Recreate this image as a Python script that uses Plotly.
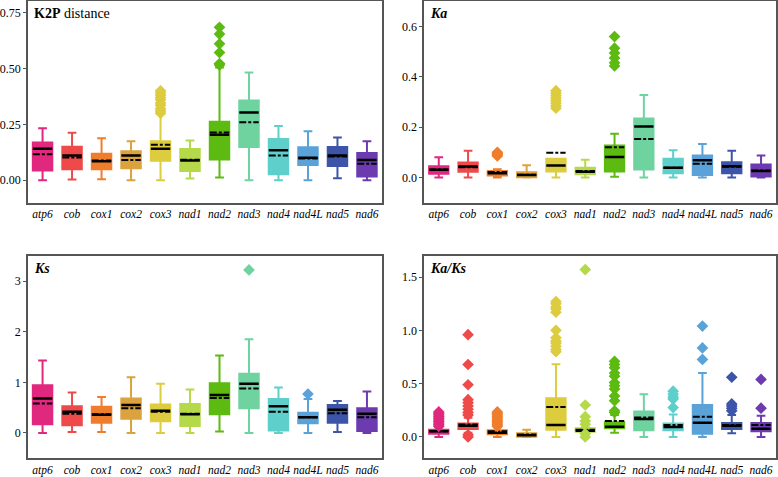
import plotly.graph_objects as go
from plotly.subplots import make_subplots

genes = ["atp6", "cob", "cox1", "cox2", "cox3", "nad1", "nad2", "nad3", "nad4", "nad4L", "nad5", "nad6"]
colors = ["#e0287f", "#ee4a4a", "#ef7d2c", "#dba23e", "#dccc3e", "#b5d948",
          "#5cba10", "#6fd3a0", "#5ecfcb", "#5aa2d8", "#3d55a8", "#6d3bb0"]

# K2P distance
k2p_lo = [0.0, 0.003, 0.004, 0.0, 0.0, 0.007, 0.012, 0.0, 0.0, 0.0, 0.009, 0.0]
k2p_q1 = [0.043, 0.049, 0.049, 0.053, 0.087, 0.041, 0.093, 0.149, 0.026, 0.068, 0.063, 0.016]
k2p_med = [0.141, 0.110, 0.085, 0.110, 0.141, 0.088, 0.203, 0.303, 0.134, 0.100, 0.110, 0.090]
k2p_mean = [0.116, 0.101, 0.088, 0.090, 0.159, 0.091, 0.213, 0.259, 0.110, 0.097, 0.106, 0.074]
k2p_q3 = [0.169, 0.150, 0.118, 0.129, 0.174, 0.140, 0.262, 0.357, 0.184, 0.147, 0.149, 0.122]
k2p_hi = [0.232, 0.212, 0.188, 0.174, 0.299, 0.178, 0.504, 0.482, 0.243, 0.219, 0.191, 0.174]
k2p_out = [[], [], [], [], [0.30, 0.31, 0.32, 0.335, 0.345, 0.36, 0.37, 0.38, 0.39, 0.40], [],
           [0.515, 0.522, 0.571, 0.610, 0.654, 0.684], [], [], [], [], []]

# Ka
ka_lo = [0.0, 0.0, 0.0, 0.0, 0.0, 0.0, 0.003, 0.0, 0.0, 0.0, 0.0, 0.0]
ka_q1 = [0.014, 0.022, 0.008, 0.001, 0.023, 0.012, 0.023, 0.031, 0.016, 0.009, 0.016, 0.004]
ka_med = [0.030, 0.043, 0.016, 0.009, 0.047, 0.022, 0.081, 0.202, 0.038, 0.068, 0.044, 0.025]
ka_mean = [0.031, 0.040, 0.021, 0.010, 0.098, 0.025, 0.120, 0.153, 0.038, 0.054, 0.042, 0.027]
ka_q3 = [0.044, 0.059, 0.025, 0.020, 0.074, 0.038, 0.127, 0.234, 0.074, 0.087, 0.060, 0.051]
ka_hi = [0.080, 0.106, 0.032, 0.048, 0.074, 0.070, 0.174, 0.328, 0.108, 0.133, 0.106, 0.087]
ka_out = [[], [], [0.085, 0.09, 0.095, 0.10], [],
          [0.275, 0.285, 0.295, 0.305, 0.315, 0.325, 0.335, 0.345], [],
          [0.443, 0.456, 0.475, 0.495, 0.514, 0.56], [], [], [], [], []]

# Ks
ks_lo = [0.0, 0.02, 0.02, 0.0, 0.0, 0.0, 0.03, 0.0, 0.0, 0.0, 0.02, 0.0]
ks_q1 = [0.17, 0.15, 0.20, 0.28, 0.23, 0.14, 0.37, 0.49, 0.05, 0.19, 0.20, 0.04]
ks_med = [0.68, 0.42, 0.36, 0.55, 0.44, 0.37, 0.75, 0.97, 0.53, 0.31, 0.46, 0.38]
ks_mean = [0.58, 0.38, 0.37, 0.49, 0.42, 0.38, 0.69, 0.88, 0.42, 0.31, 0.39, 0.31]
ks_q3 = [0.94, 0.53, 0.52, 0.68, 0.56, 0.57, 0.98, 1.17, 0.67, 0.40, 0.55, 0.49]
ks_hi = [1.43, 0.80, 0.71, 1.10, 0.97, 0.86, 1.53, 1.85, 0.90, 0.67, 0.63, 0.82]
ks_out = [[], [], [], [], [], [], [], [3.22], [], [0.77], [], []]

# Ka/Ks
kk_lo = [0.0, 0.04, 0.0, 0.0, 0.0, 0.05, 0.04, 0.0, 0.0, 0.0, 0.035, 0.0]
kk_q1 = [0.031, 0.075, 0.025, 0.003, 0.068, 0.050, 0.081, 0.062, 0.062, 0.031, 0.075, 0.053]
kk_med = [0.053, 0.106, 0.040, 0.016, 0.112, 0.059, 0.096, 0.168, 0.093, 0.134, 0.106, 0.078]
kk_mean = [0.053, 0.118, 0.053, 0.022, 0.280, 0.068, 0.149, 0.183, 0.112, 0.190, 0.112, 0.112]
kk_q3 = [0.068, 0.127, 0.062, 0.034, 0.363, 0.081, 0.137, 0.239, 0.127, 0.300, 0.130, 0.130]
kk_hi = [0.090, 0.180, 0.090, 0.068, 0.683, 0.090, 0.205, 0.400, 0.210, 0.600, 0.205, 0.200]
kk_out = [[0.10, 0.115, 0.13, 0.145, 0.16, 0.175, 0.19, 0.205, 0.22, 0.235],
          [0.0, 0.02, 0.205, 0.23, 0.26, 0.29, 0.32, 0.35, 0.49, 0.68, 0.96],
          [0.10, 0.115, 0.13, 0.145, 0.16, 0.175, 0.19, 0.205, 0.22, 0.235],
          [],
          [0.80, 0.82, 0.85, 0.88, 0.90, 0.93, 1.00, 1.17, 1.20, 1.22, 1.25, 1.27],
          [0.0, 0.03, 0.12, 0.15, 0.19, 0.30, 1.57],
          [0.23, 0.245, 0.34, 0.385, 0.45, 0.48, 0.51, 0.57, 0.60, 0.65, 0.68, 0.71],
          [],
          [0.276, 0.355, 0.375, 0.40, 0.43],
          [0.727, 0.835, 1.04],
          [0.245, 0.27, 0.29, 0.31, 0.56],
          [0.27, 0.54]]

panels = [
    (1, 1, k2p_q1, k2p_med, k2p_q3, k2p_lo, k2p_hi, k2p_mean, k2p_out),
    (1, 2, ka_q1, ka_med, ka_q3, ka_lo, ka_hi, ka_mean, ka_out),
    (2, 1, ks_q1, ks_med, ks_q3, ks_lo, ks_hi, ks_mean, ks_out),
    (2, 2, kk_q1, kk_med, kk_q3, kk_lo, kk_hi, kk_mean, kk_out),
]
titles = ["<b>K2P</b> distance", "<b><i>Ka</i></b>", "<b><i>Ks</i></b>", "<b><i>Ka/Ks</i></b>"]
yranges = [[-0.1, 0.8], [-0.1, 0.7], [-0.5, 3.5], [-0.2, 1.7]]
yticks = [[0, 0.25, 0.5, 0.75], [0, 0.2, 0.4, 0.6], [0, 1, 2, 3], [0, 0.5, 1.0, 1.5]]
yfmt = [".2f", ".1f", "d", ".1f"]

serif = "Liberation Serif"
bw = 0.66
half = bw / 2

fig = make_subplots(rows=2, cols=2)

for row, col, q1, med, q3, lo, hi, mean, out in panels:
    for i, g in enumerate(genes):
        fig.add_trace(go.Box(
            x=[i], q1=[q1[i]], median=[med[i]], q3=[q3[i]],
            lowerfence=[lo[i]], upperfence=[hi[i]],
            width=bw, whiskerwidth=0.45,
            fillcolor=colors[i], line=dict(color=colors[i], width=2),
            boxpoints=False, hoverinfo="skip", showlegend=False,
        ), row=row, col=col)

    # median (solid) and mean (dash-dot) lines on top of the boxes
    mx, my, ax, ay = [], [], [], []
    for i in range(len(genes)):
        mx += [i - half, i + half, None]
        my += [med[i], med[i], None]
        ax += [i - half, i + half, None]
        ay += [mean[i], mean[i], None]
    fig.add_trace(go.Scatter(x=mx, y=my, mode="lines", line=dict(color="black", width=2.5),
                             hoverinfo="skip", showlegend=False), row=row, col=col)
    fig.add_trace(go.Scatter(x=ax, y=ay, mode="lines",
                             line=dict(color="black", width=2, dash="7px,2px,3px,2px"),
                             hoverinfo="skip", showlegend=False), row=row, col=col)

    # outliers
    ox, oy, oc = [], [], []
    for i, vals in enumerate(out):
        ox += [i] * len(vals)
        oy += vals
        oc += [colors[i]] * len(vals)
    fig.add_trace(go.Scatter(x=ox, y=oy, mode="markers",
                             marker=dict(symbol="diamond", size=9, color=oc),
                             hoverinfo="skip", showlegend=False), row=row, col=col)

xdom = [[0.027, 0.486], [0.541, 0.997]]
ydom = [[0.570, 0.997], [0.027, 0.457]]

for k, (row, col, *_rest) in enumerate(panels):
    fig.update_xaxes(
        domain=xdom[col - 1], range=[-0.5, 11.5],
        tickmode="array", tickvals=list(range(len(genes))),
        ticktext=["<i>%s</i>" % g for g in genes], tickangle=0,
        tickfont=dict(family=serif, size=11.5, color="black"),
        showgrid=False, zeroline=False, ticks="", ticklabelstandoff=0,
        showline=True, mirror=True, linecolor="#555555", linewidth=1.5,
        row=row, col=col)
    fig.update_yaxes(
        domain=ydom[row - 1], range=yranges[k],
        tickmode="array", tickvals=yticks[k], tickformat=yfmt[k],
        tickfont=dict(family=serif, size=12, color="black"),
        showgrid=False, zeroline=False, ticks="outside", ticklen=3, tickcolor="#555555",
        showline=True, mirror=True, linecolor="#555555", linewidth=1.5,
        row=row, col=col)
    xr = "x domain" if k == 0 else "x%d domain" % (k + 1)
    yr = "y domain" if k == 0 else "y%d domain" % (k + 1)
    fig.add_annotation(text=titles[k], xref=xr, yref=yr, x=0.012, y=0.985,
                       xanchor="left", yanchor="top", showarrow=False,
                       font=dict(family=serif, size=14, color="black"))

fig.update_layout(
    width=778, height=477,
    margin=dict(l=0, r=0, t=0, b=0),
    paper_bgcolor="white", plot_bgcolor="white",
    font=dict(family=serif),
)

# drop the browser's default page margin so the figure sits at the top-left corner
fig.write_html("out.html", config={"displayModeBar": False},
               post_script="document.body.style.margin='0';")
